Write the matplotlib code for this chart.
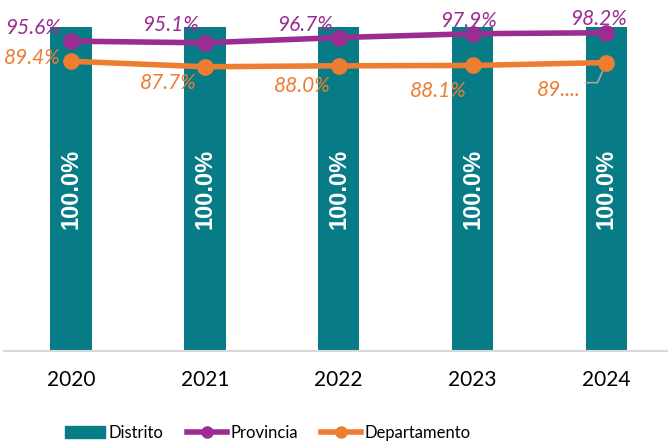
import numpy as np
import matplotlib
matplotlib.use('Agg')
import matplotlib.pyplot as plt
from matplotlib.lines import Line2D
from matplotlib.patches import Patch

years = ["2020", "2021", "2022", "2023", "2024"]
distrito = [100.0, 100.0, 100.0, 100.0, 100.0]
provincia = [95.6, 95.1, 96.7, 97.9, 98.2]
departamento = [89.4, 87.7, 88.0, 88.1, 89.0]
prov_labels = ["95.6%", "95.1%", "96.7%", "97.9%", "98.2%"]
dep_labels = ["89.4%", "87.7%", "88.0%", "88.1%", "89...."]

TEAL = "#077C87"
PURPLE = "#9B2D92"
ORANGE = "#ED7D31"

plt.rcParams['font.family'] = ['Lato', 'DejaVu Sans']

fig = plt.figure(figsize=(6.68, 4.46), dpi=100)
ax = fig.add_axes([4 / 668, 95 / 446, 664 / 668, 351 / 446])

x = np.arange(len(years))
ax.bar(x, distrito, width=0.31, color=TEAL, zorder=1)
for xi, v in zip(x, distrito):
    ax.text(xi, v / 2, f"{v:.1f}%", rotation=90, ha="center", va="center",
            color="white", fontsize=17, fontweight="bold",
            family=["Liberation Sans", "DejaVu Sans"], zorder=2)

ax.plot(x, provincia, color=PURPLE, lw=4, marker="o", ms=11, zorder=3)
ax.plot(x, departamento, color=ORANGE, lw=4, marker="o", ms=11, zorder=3)

# label offsets in points (dx, dy) relative to each point
prov_off = [(-27, 11), (-25, 14.5), (-24.5, 10.5), (-3, 10.5), (-6, 11.5)]
dep_off = [(-28, 3.5), (-26.5, -10.5), (-26.5, -13), (-24.5, -17), (-34, -18)]
for xi, v, s, (dx, dy) in zip(x, provincia, prov_labels, prov_off):
    ax.annotate(s, (xi, v), xytext=(dx, dy), textcoords="offset points",
                ha="center", va="center_baseline", color=PURPLE, fontsize=15,
                style="italic", zorder=4)
for xi, v, s, (dx, dy) in zip(x, departamento, dep_labels, dep_off):
    ax.annotate(s, (xi, v), xytext=(dx, dy), textcoords="offset points",
                ha="center", va="center_baseline", color=ORANGE, fontsize=15,
                style="italic", zorder=4)

# leader line for the clipped last label
x4, y4 = x[-1], departamento[-1]
ax.annotate("", (x4, y4), xytext=(-15, -14.5), textcoords="offset points",
            arrowprops=dict(arrowstyle="-", color="#A6A6A6", lw=1.2,
                            connectionstyle="angle,angleA=0,angleB=66,rad=0",
                            shrinkA=0, shrinkB=2), zorder=2)

ax.set_xlim(-0.5, 4.46)
ax.set_ylim(0, 108.3)
ax.set_yticks([])
ax.set_xticks(x)
ax.set_xticklabels(years, fontsize=15)
ax.tick_params(axis="x", length=0, pad=14)
for s in ["top", "right", "left"]:
    ax.spines[s].set_visible(False)
ax.spines["bottom"].set_color("#D9D9D9")
ax.spines["bottom"].set_linewidth(1.5)

handles = [
    Patch(color=TEAL, label="Distrito"),
    Line2D([], [], color=PURPLE, lw=4, marker="o", ms=8, label="Provincia"),
    Line2D([], [], color=ORANGE, lw=4, marker="o", ms=8, label="Departamento"),
]
fig.legend(handles=handles, loc="center", bbox_to_anchor=(268 / 668, 1 - 433 / 446),
           ncol=3, frameon=False, fontsize=12, handlelength=2.4,
           handletextpad=0.2, columnspacing=1.4)

fig.savefig("out.png", dpi=100)
